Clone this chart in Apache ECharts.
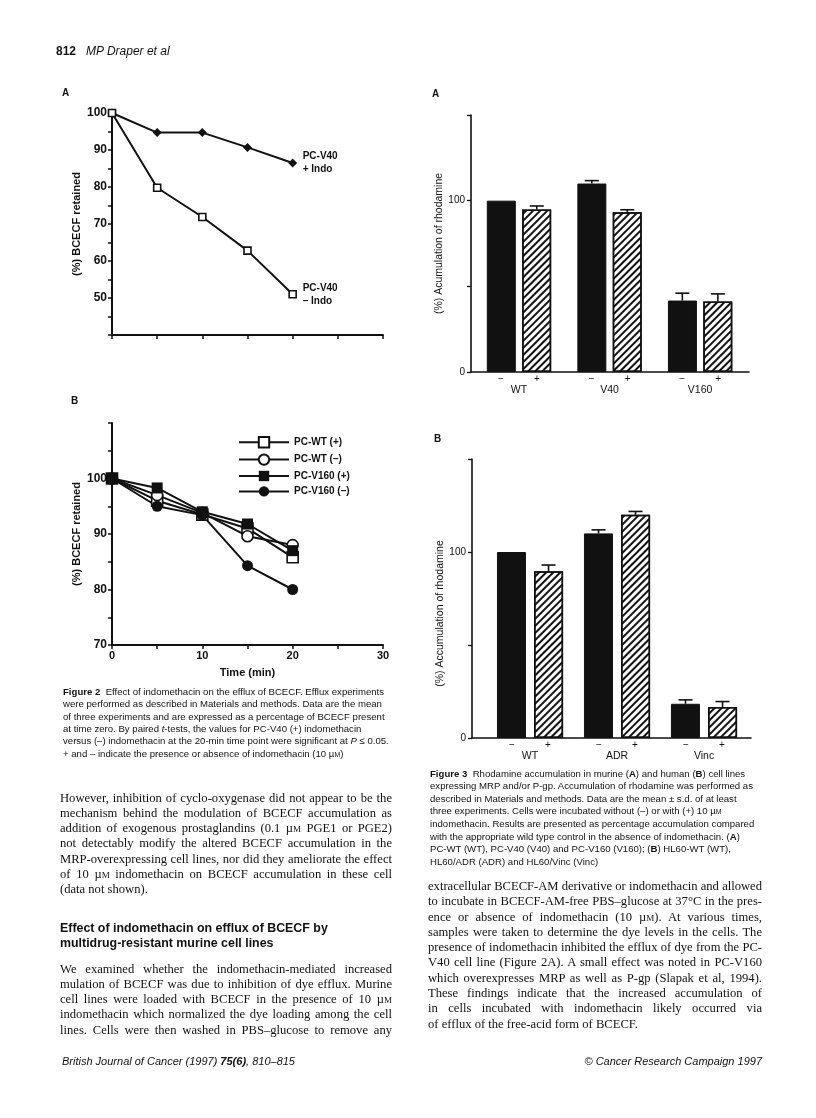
<!DOCTYPE html>
<html>
<head>
<meta charset="utf-8">
<title>Draper et al 1997, page 812</title>
<script src="https://cdn.jsdelivr.net/npm/echarts@6/dist/echarts.min.js"></script>
<style>
  html, body { margin: 0; padding: 0; background: #fff; }
  #page { position: relative; width: 816px; height: 1118px; overflow: hidden; background: #fff; }
  #chart { position: absolute; left: 0; top: 0; width: 816px; height: 1118px; }
  .abs { position: absolute; color: #111; }
  .sans { font-family: 'Liberation Sans', Arial, Helvetica, sans-serif; }
  .serif { font-family: 'Liberation Serif', 'Times New Roman', serif; }
  .cap { font-size: 9.6px; line-height: 12.4px; white-space: nowrap; }
  .body { font-size: 12.6px; }
  .body .ln { height: 15.3px; line-height: 15.3px; overflow: hidden; text-align: justify; text-align-last: justify; }
  .body .ln.last { text-align-last: left; }
  .sc { font-size: 0.72em; }
  .head { font-size: 12.4px; font-weight: bold; line-height: 15px; white-space: nowrap; }
</style>
</head>
<body>
<div id="page">
  <div id="chart"></div>

  <div class="abs sans" style="left:56px; top:44px; font-size:12px; white-space:nowrap;"><b>812</b>&nbsp;&nbsp;&nbsp;<i>MP Draper et al</i></div>

  <div class="abs sans cap" style="left:63px; top:685.8px;">
    <b>Figure 2</b>&nbsp; Effect of indomethacin on the efflux of BCECF. Efflux experiments<br>
    were performed as described in Materials and methods. Data are the mean<br>
    of three experiments and are expressed as a percentage of BCECF present<br>
    at time zero. By paired <i>t</i>-tests, the values for PC-V40 (+) indomethacin<br>
    versus (–) indomethacin at the 20-min time point were significant at <i>P</i> ≤ 0.05.<br>
    + and – indicate the presence or absence of indomethacin (10 µ<span class="sc">M</span>)
  </div>

  <div class="abs sans cap" style="left:430px; top:767.8px;">
    <b>Figure 3</b>&nbsp; Rhodamine accumulation in murine (<b>A</b>) and human (<b>B</b>) cell lines<br>
    expressing MRP and/or P-gp. Accumulation of rhodamine was performed as<br>
    described in Materials and methods. Data are the mean ± s.d. of at least<br>
    three experiments. Cells were incubated without (–) or with (+) 10 µ<span class="sc">M</span><br>
    indomethacin. Results are presented as percentage accumulation compared<br>
    with the appropriate wild type control in the absence of indomethacin. (<b>A</b>)<br>
    PC-WT (WT), PC-V40 (V40) and PC-V160 (V160); (<b>B</b>) HL60-WT (WT),<br>
    HL60/ADR (ADR) and HL60/Vinc (Vinc)
  </div>

  <div class="abs serif body" style="left:60px; top:790.6px; width:332px;">
    <div class="ln">However, inhibition of cyclo-oxygenase did not appear to be the</div>
    <div class="ln">mechanism behind the modulation of BCECF accumulation as the</div>
    <div class="ln">addition of exogenous prostaglandins (0.1 µ<span class="sc">M</span> PGE1 or PGE2) did</div>
    <div class="ln">not detectably modify the altered BCECF accumulation in the</div>
    <div class="ln">MRP-overexpressing cell lines, nor did they ameliorate the effect</div>
    <div class="ln">of 10 µ<span class="sc">M</span> indomethacin on BCECF accumulation in these cell lines</div>
    <div class="ln last">(data not shown).</div>
  </div>

  <div class="abs sans head" style="left:60px; top:920.8px;">
    Effect of indomethacin on efflux of BCECF by<br>
    multidrug-resistant murine cell lines
  </div>

  <div class="abs serif body" style="left:60px; top:961.6px; width:332px;">
    <div class="ln">We examined whether the indomethacin-mediated increased accu-</div>
    <div class="ln">mulation of BCECF was due to inhibition of dye efflux. Murine</div>
    <div class="ln">cell lines were loaded with BCECF in the presence of 10 µ<span class="sc">M</span></div>
    <div class="ln">indomethacin which normalized the dye loading among the cell</div>
    <div class="ln">lines. Cells were then washed in PBS–glucose to remove any</div>
  </div>

  <div class="abs serif body" style="left:428px; top:879px; width:334px;">
    <div class="ln">extracellular BCECF-AM derivative or indomethacin and allowed</div>
    <div class="ln">to incubate in BCECF-AM-free PBS–glucose at 37°C in the pres-</div>
    <div class="ln">ence or absence of indomethacin (10 µ<span class="sc">M</span>). At various times,</div>
    <div class="ln">samples were taken to determine the dye levels in the cells. The</div>
    <div class="ln">presence of indomethacin inhibited the efflux of dye from the PC-</div>
    <div class="ln">V40 cell line (Figure 2A). A small effect was noted in PC-V160</div>
    <div class="ln">which overexpresses MRP as well as P-gp (Slapak et al, 1994).</div>
    <div class="ln">These findings indicate that the increased accumulation of BCECF</div>
    <div class="ln">in cells incubated with indomethacin likely occurred via inhibition</div>
    <div class="ln last">of efflux of the free-acid form of BCECF.</div>
  </div>

  <div class="abs sans" style="left:62px; top:1055px; font-size:11px; font-style:italic; white-space:nowrap;">British Journal of Cancer (1997) <b>75(6)</b>, 810–815</div>
  <div class="abs sans" style="right:54px; top:1055px; font-size:11px; font-style:italic; white-space:nowrap;">© Cancer Research Campaign 1997</div>
</div>

<script>
// ---- Figure 2: time course (min) ----
const times = [0, 5, 10, 15, 20]
// A
const v40PlusIndo = [100, 94.7, 94.7, 90.7, 86.5]
const v40MinusIndo = [100, 79.8, 71.9, 62.8, 51]
// B
const wtPlus = [100, 96, 93.5, 91, 85.8]
const wtMinus = [100, 97, 93.8, 89.6, 88]
const v160Plus = [100, 98.3, 94, 91.8, 87]
const v160Minus = [100, 95, 93.4, 84.3, 80]
const fig2aYLabels = [50, 60, 70, 80, 90, 100]
const fig2bYLabels = [70, 80, 90, 100]
const fig2bXLabels = [0, 10, 20, 30]

// ---- Figure 3: rhodamine accumulation (%) ----
const fig3aGroups = ['WT', 'V40', 'V160']
const fig3aMinus = [100, 110, 41.7]
const fig3aMinusSd = [0, 1.7, 4.3]
const fig3aPlus = [94.9, 93.2, 41.1]
const fig3aPlusSd = [2, 1.5, 4.5]
const fig3bGroups = ['WT', 'ADR', 'Vinc']
const fig3bMinus = [100, 110, 18.4]
const fig3bMinusSd = [0, 1.9, 2.1]
const fig3bPlus = [89.7, 120, 16.6]
const fig3bPlusSd = [3.3, 1.8, 3]
const fig3YLabels = [0, 100]

const INK = '#111'
const SANS = "'Liberation Sans', Arial, Helvetica, sans-serif"

const pairs = (xs, ys) => ys.map((y, i) => [xs[i], y])

// 折线图坐标轴
const lineXAxis = (gridIndex, labels, name) => ({
  gridIndex,
  type: 'value',
  min: 0,
  max: 30,
  interval: 5,
  name: name || '',
  nameLocation: 'middle',
  nameGap: 22,
  nameTextStyle: { color: INK, fontFamily: SANS, fontSize: 11, fontWeight: 'bold' },
  axisLine: { onZero: false, lineStyle: { color: INK, width: 2 } },
  axisTick: { length: 4, lineStyle: { color: INK, width: 1.5 } },
  axisLabel: labels
    ? { customValues: labels, color: INK, fontFamily: SANS, fontSize: 11, fontWeight: 'bold', margin: 5 }
    : { show: false },
  splitLine: { show: false }
})

const lineYAxis = (gridIndex, min, max, labels) => ({
  gridIndex,
  type: 'value',
  min,
  max,
  interval: 5,
  name: '(%) BCECF retained',
  nameLocation: 'middle',
  nameRotate: 90,
  nameGap: 30,
  nameTextStyle: { color: INK, fontFamily: SANS, fontSize: 11, fontWeight: 'bold' },
  axisLine: { onZero: false, lineStyle: { color: INK, width: 2 } },
  axisTick: { length: 4, lineStyle: { color: INK, width: 1.5 } },
  axisLabel: { customValues: labels, color: INK, fontFamily: SANS, fontSize: 12, fontWeight: 'bold', margin: 5 },
  splitLine: { show: false }
})

// 柱状图坐标轴
const barXAxis = (gridIndex, groups, min, max) => ({
  gridIndex,
  type: 'value',
  min,
  max,
  axisLine: { onZero: false, lineStyle: { color: INK, width: 1.6 } },
  axisTick: { show: false },
  axisLabel: {
    customValues: groups.map((g, i) => i),
    formatter: v => '{s|−}{s|+}\n{n|' + groups[Math.round(v)] + '}',
    margin: 2,
    color: INK,
    fontFamily: SANS,
    rich: {
      s: { width: 36, align: 'center', fontSize: 10, lineHeight: 10, color: INK, fontFamily: SANS },
      n: { fontSize: 10.5, lineHeight: 12, color: INK, fontFamily: SANS }
    }
  },
  splitLine: { show: false }
})

const barYAxis = (gridIndex, name, padRight) => ({
  gridIndex,
  type: 'value',
  min: 0,
  max: 150,
  interval: 50,
  name,
  nameLocation: 'middle',
  nameRotate: 90,
  nameGap: 24,
  nameTextStyle: { color: INK, fontFamily: SANS, fontSize: 10.5, padding: [0, padRight, 0, 0] },
  axisLine: { onZero: false, lineStyle: { color: INK, width: 1.6 } },
  axisTick: { length: 4, lineStyle: { color: INK, width: 1.3 } },
  axisLabel: { customValues: fig3YLabels, color: INK, fontFamily: SANS, fontSize: 10, margin: 6 },
  splitLine: { show: false }
})

const lineSeries = (name, idx, data, symbol, size, filled, extra) => Object.assign({
  name,
  type: 'line',
  xAxisIndex: idx,
  yAxisIndex: idx,
  data: pairs(times, data),
  symbol,
  symbolSize: size,
  showSymbol: true,
  lineStyle: { color: INK, width: 2 },
  itemStyle: { color: filled ? INK : '#fff', borderColor: INK, borderWidth: filled ? 0 : 1.6 },
  emphasis: { disabled: true },
  silent: true
}, extra || {})

const endLabel = text => ({
  endLabel: {
    show: true,
    formatter: text,
    distance: 10,
    color: INK,
    fontFamily: SANS,
    fontSize: 10,
    fontWeight: 'bold',
    lineHeight: 13,
    align: 'left'
  }
})

const hatch = {
  symbol: 'rect',
  symbolSize: 1,
  color: INK,
  dashArrayX: [1, 0],
  dashArrayY: [2, 2.6],
  rotation: -Math.PI / 4
}

const barSeries = (name, idx, values, hatched, gap) => ({
  name,
  type: 'bar',
  xAxisIndex: idx,
  yAxisIndex: idx,
  data: values.map((v, i) => [i, v]),
  barWidth: 29,
  barGap: gap,
  itemStyle: hatched
    ? { color: '#fff', borderColor: INK, borderWidth: 1.5, decal: hatch }
    : { color: INK, borderColor: INK, borderWidth: 1 },
  emphasis: { disabled: true },
  silent: true
})

// 误差线 (mean + s.d.)
const errorSeries = (name, idx, means, sds, shift) => ({
  name,
  type: 'custom',
  xAxisIndex: idx,
  yAxisIndex: idx,
  data: means.map((m, i) => [i, m, sds[i]]),
  encode: { x: 0, y: 1 },
  silent: true,
  z: 1,
  renderItem: (params, api) => {
    const sd = api.value(2)
    if (!sd) return null
    const base = api.coord([api.value(0), api.value(1)])
    const top = api.coord([api.value(0), api.value(1) + sd])
    const x = base[0] + shift
    const style = { stroke: INK, lineWidth: 1.6 }
    return {
      type: 'group',
      children: [
        { type: 'line', shape: { x1: x, y1: base[1], x2: x, y2: top[1] }, style },
        { type: 'line', shape: { x1: x - 7, y1: top[1], x2: x + 7, y2: top[1] }, style }
      ]
    }
  }
})

const panelLetter = (text, left, top) => ({
  type: 'text',
  left,
  top,
  style: { text, fill: INK, font: 'bold 10px ' + SANS }
})

const chart = echarts.init(document.getElementById('chart'), null, { renderer: 'canvas' })

chart.setOption({
  animation: false,
  backgroundColor: 'transparent',
  textStyle: { fontFamily: SANS, color: INK },
  grid: [
    { left: 112, top: 113, width: 271, height: 222 },
    { left: 112, top: 423, width: 271, height: 222 },
    { left: 471, top: 115, width: 278, height: 257 },
    { left: 472, top: 459, width: 279, height: 279 }
  ],
  xAxis: [
    lineXAxis(0, null),
    lineXAxis(1, fig2bXLabels, 'Time (min)'),
    barXAxis(2, fig3aGroups, -0.53, 2.54),
    barXAxis(3, fig3bGroups, -0.667, 2.54)
  ],
  yAxis: [
    lineYAxis(0, 40, 100, fig2aYLabels),
    lineYAxis(1, 70, 110, fig2bYLabels),
    barYAxis(2, '(%) Acumulation of rhodamine', 0),
    barYAxis(3, '(%) Accumulation of rhodamine', 30)
  ],
  legend: {
    data: ['PC-WT (+)', 'PC-WT (–)', 'PC-V160 (+)', 'PC-V160 (–)'],
    orient: 'vertical',
    left: 233,
    top: 431,
    itemWidth: 50,
    itemHeight: 13,
    itemGap: 5,
    selectedMode: false,
    textStyle: { color: INK, fontFamily: SANS, fontSize: 10, fontWeight: 'bold', padding: [0, 0, 0, 0] }
  },
  graphic: [
    panelLetter('A', 62, 88),
    panelLetter('B', 71, 396),
    panelLetter('A', 432, 89),
    panelLetter('B', 434, 434)
  ],
  series: [
    lineSeries('PC-V40 + Indo', 0, v40PlusIndo, 'diamond', 9, true, endLabel('PC-V40\n+ Indo')),
    lineSeries('PC-V40 – Indo', 0, v40MinusIndo, 'rect', 7, false, endLabel('PC-V40\n– Indo')),
    lineSeries('PC-WT (+)', 1, wtPlus, 'rect', 11, false),
    lineSeries('PC-WT (–)', 1, wtMinus, 'circle', 11, false),
    lineSeries('PC-V160 (+)', 1, v160Plus, 'rect', 11, true),
    lineSeries('PC-V160 (–)', 1, v160Minus, 'circle', 11, true),
    barSeries('A –', 2, fig3aMinus, false, '22%'),
    barSeries('A +', 2, fig3aPlus, true, '22%'),
    errorSeries('A – s.d.', 2, fig3aMinus, fig3aMinusSd, -17.75),
    errorSeries('A + s.d.', 2, fig3aPlus, fig3aPlusSd, 17.75),
    barSeries('B –', 3, fig3bMinus, false, '28%'),
    barSeries('B +', 3, fig3bPlus, true, '28%'),
    errorSeries('B – s.d.', 3, fig3bMinus, fig3bMinusSd, -18.5),
    errorSeries('B + s.d.', 3, fig3bPlus, fig3bPlusSd, 18.5)
  ]
})

window.addEventListener('resize', () => chart.resize())
</script>
</body>
</html>
